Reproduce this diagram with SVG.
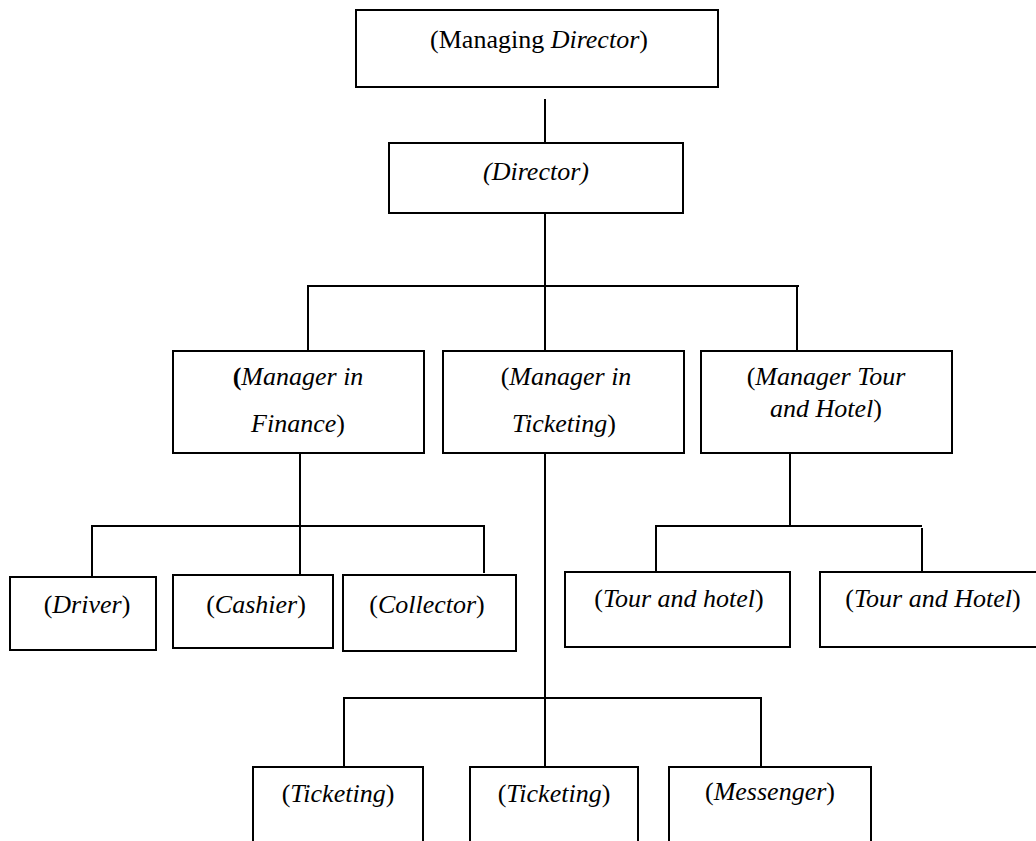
<svg xmlns="http://www.w3.org/2000/svg" width="1036" height="841" viewBox="0 0 1036 841">
<style>
.box{fill:#fff;stroke:#000;stroke-width:2}
.ln{fill:none;stroke:#000;stroke-width:2}
text{font-family:'Liberation Serif','DejaVu Serif',serif;font-size:26px;fill:#000;text-anchor:middle}
.i{font-style:italic}
.b{font-weight:bold}
</style>
<rect width="1036" height="841" fill="#fff"/>
<g id="connectors">
<path class="ln" d="M545,99V143"/>
<path class="ln" d="M545,213V351M308,351V286H799M797,286V351"/>
<path class="ln" d="M300,453V575M92,577V526H484V573"/>
<path class="ln" d="M545,453V767M344,767V698H761V767"/>
<path class="ln" d="M790,453V526M656,572V526H922M922,528V572"/>
</g>
<g font-family="Liberation Serif, serif">
<g id="n-md"><rect class="box" x="356" y="10" width="362" height="77"/><text x="539" y="48">(Managing <tspan class="i">Director</tspan>)</text></g>
<g id="n-director"><rect class="box" x="389" y="143" width="294" height="70"/><text class="i" x="536" y="180">(Director)</text></g>
<g id="n-finance"><rect class="box" x="173" y="351" width="251" height="102"/><text x="298" y="385"><tspan class="b">(</tspan><tspan class="i">Manager in</tspan></text><text x="298" y="432"><tspan class="i">Finance</tspan>)</text></g>
<g id="n-ticketing"><rect class="box" x="443" y="351" width="241" height="102"/><text x="566" y="385">(<tspan class="i">Manager in</tspan></text><text x="564" y="432"><tspan class="i">Ticketing</tspan>)</text></g>
<g id="n-tour"><rect class="box" x="701" y="351" width="251" height="102"/><text x="826" y="385">(<tspan class="i">Manager Tour</tspan></text><text x="826" y="417"><tspan class="i">and Hotel</tspan>)</text></g>
<g id="n-driver"><rect class="box" x="10" y="577" width="146" height="73"/><text x="87" y="613">(<tspan class="i">Driver</tspan>)</text></g>
<g id="n-cashier"><rect class="box" x="173" y="575" width="160" height="73"/><text x="256" y="613">(<tspan class="i">Cashier</tspan>)</text></g>
<g id="n-collector"><rect class="box" x="343" y="575" width="173" height="76"/><text x="427" y="613">(<tspan class="i">Collector</tspan>)</text></g>
<g id="n-tour1"><rect class="box" x="565" y="572" width="225" height="75"/><text x="679" y="607">(<tspan class="i">Tour and hotel</tspan>)</text></g>
<g id="n-tour2"><rect class="box" x="820" y="572" width="226" height="75"/><text x="933" y="607">(<tspan class="i">Tour and Hotel</tspan>)</text></g>
<g id="n-tick1"><rect class="box" x="253" y="767" width="170" height="100"/><text x="338" y="802">(<tspan class="i">Ticketing</tspan>)</text></g>
<g id="n-tick2"><rect class="box" x="470" y="767" width="168" height="100"/><text x="554" y="802">(<tspan class="i">Ticketing</tspan>)</text></g>
<g id="n-messenger"><rect class="box" x="669" y="767" width="202" height="100"/><text x="770" y="800">(<tspan class="i">Messenger</tspan>)</text></g>
</g>
</svg>
